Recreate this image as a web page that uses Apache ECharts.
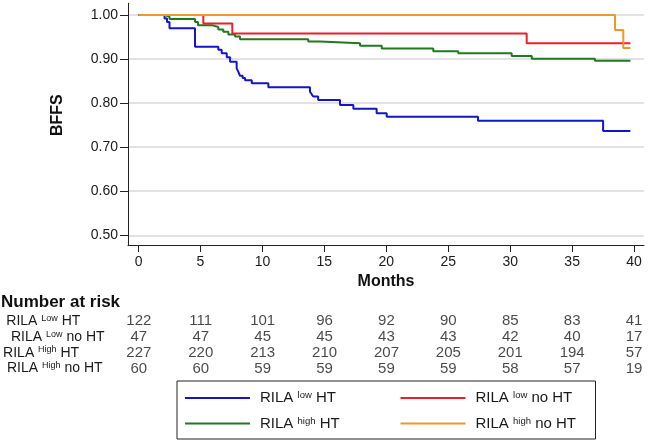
<!DOCTYPE html>
<html><head><meta charset="utf-8">
<script src="https://cdn.jsdelivr.net/npm/echarts@6/dist/echarts.min.js"></script>
<style>html,body{margin:0;padding:0;background:#fff}#c{width:650px;height:442px}</style>
</head><body><div id="c"></div>
<script>
// ---- data ----
const monthTicks = [0, 5, 10, 15, 20, 25, 30, 35, 40];
const bffsTicks = [0.5, 0.6, 0.7, 0.8, 0.9, 1.0];
const seriesNames = ['RILA low HT', 'RILA low no HT', 'RILA high HT', 'RILA high no HT'];

// Kaplan-Meier steps [month, BFFS]
const lowHT = [[0,1],[2.1,0.992],[2.3,0.984],[2.5,0.970],[4.56,0.928],[6.44,0.921],[6.71,0.913],[7.12,0.904],[7.39,0.894],[7.92,0.879],[8.06,0.871],[8.19,0.862],[8.4,0.857],[8.6,0.852],[9.14,0.845],[10.48,0.836],[13.84,0.826],[13.98,0.820],[14.1,0.815],[14.5,0.807],[16.26,0.796],[17.34,0.787],[19.22,0.777],[20.03,0.769],[27.4,0.760],[37.5,0.737],[39.7,0.737]];
const lowNoHT = [[0,1],[5.23,0.981],[7.57,0.958],[31.33,0.936],[39.7,0.936]];
const highHT = [[0,1],[2.15,0.996],[2.5,0.991],[4.56,0.984],[4.8,0.977],[5.91,0.973],[6.44,0.967],[6.84,0.962],[7.25,0.956],[7.79,0.951],[8.19,0.945],[13.7,0.940],[14.65,0.936],[17.88,0.930],[19.63,0.924],[23.79,0.918],[25.81,0.913],[30.12,0.907],[31.74,0.901],[36.84,0.896],[39.7,0.896]];
const highNoHT = [[0,1],[38.46,0.966],[39.13,0.925],[39.7,0.925]];

const riskRowLabels = ['RILA Low HT', 'RILA Low no HT', 'RILA High HT', 'RILA High no HT'];
const riskLowHT = [122, 111, 101, 96, 92, 90, 85, 83, 41];
const riskLowNoHT = [47, 47, 45, 45, 43, 43, 42, 40, 17];
const riskHighHT = [227, 220, 213, 210, 207, 205, 201, 194, 57];
const riskHighNoHT = [60, 60, 59, 59, 59, 59, 58, 57, 19];

// ---- chart ----
const colors = ['#1414c8', '#e8202a', '#1e7a1e', '#f0962a'];
const sans = 'Liberation Sans, Arial, sans-serif';
const chart = echarts.init(document.getElementById('c'), null, {renderer: 'canvas'});

function kmSeries(name, data, color, z) {
  return {
    name, type: 'line', step: 'end', data, symbol: 'none', showSymbol: false,
    xAxisIndex: 0, yAxisIndex: 0, z,
    lineStyle: {color, width: 2}, itemStyle: {color}, silent: true
  };
}
function riskSeries(row, values) {
  return {
    type: 'scatter', xAxisIndex: 1, yAxisIndex: 1, symbolSize: 2,
    itemStyle: {color: 'rgba(0,0,0,0)'}, silent: true,
    data: monthTicks.map((m, i) => [m, row, values[i]]),
    label: {show: true, position: 'inside', formatter: p => String(p.value[2]),
      fontFamily: sans, fontSize: 15, color: '#1a1a1a'}
  };
}

const supRich = {
  t: {fontFamily: sans, fontSize: 15, lineHeight: 15, color: '#1a1a1a'},
  s: {fontFamily: sans, fontSize: 9.5, lineHeight: 9, verticalAlign: 'top', color: '#1a1a1a'}
};
function supFormat(name) {
  const parts = name.split(' ');
  return '{t|' + parts[0] + ' }{s|' + parts[1] + '}{t| ' + parts.slice(2).join(' ') + '}';
}
const rowPad = [3.3, 8, 0.1, 4];
const rowRich = {
  t: {fontFamily: sans, fontSize: 14, lineHeight: 15, color: '#1a1a1a'},
  s: {fontFamily: sans, fontSize: 9, lineHeight: 9, verticalAlign: 'top', color: '#1a1a1a'}
};
rowPad.forEach((w, i) => { rowRich['p' + i] = {width: w, fontSize: 14, lineHeight: 15}; });

const option = {
  animation: false,
  backgroundColor: '#fff',
  title: {text: 'Number at risk', left: 1, top: 294, padding: 0,
    textStyle: {fontFamily: sans, fontSize: 17, fontWeight: 'bold', color: '#111'}},
  legend: {
    left: 177, top: 381, width: 407,
    padding: [9.5, 10, 8, 8],
    borderColor: '#222', borderWidth: 1,
    icon: 'rect', itemWidth: 65, itemHeight: 2, itemGap: 10.5,
    formatter: supFormat,
    textStyle: {rich: supRich, padding: [0, 0, 0, 5], lineHeight: 15},
    data: [
      {name: seriesNames[0], textStyle: {width: 130}},
      {name: seriesNames[1], textStyle: {width: 110}},
      {name: seriesNames[2], textStyle: {width: 130}},
      {name: seriesNames[3], textStyle: {width: 110}}
    ]
  },
  grid: [
    {left: 128, top: 3.3, width: 516, height: 241.7},
    {left: 128, top: 313.5, width: 516, height: 62.8}
  ],
  xAxis: [
    {gridIndex: 0, type: 'value', min: -0.85, max: 40.8,
      name: 'Months', nameLocation: 'middle', nameGap: 26,
      nameTextStyle: {fontFamily: sans, fontSize: 16, fontWeight: 'bold', color: '#111'},
      axisLine: {show: true, onZero: false, lineStyle: {color: '#222', width: 1}},
      axisTick: {show: true, length: 7, customValues: monthTicks, lineStyle: {color: '#222'}},
      axisLabel: {customValues: monthTicks, margin: 10, fontFamily: sans, fontSize: 14, color: '#1a1a1a'},
      splitLine: {show: false}},
    {gridIndex: 1, type: 'value', min: -0.85, max: 40.8, show: false,
      axisLine: {show: false}, axisTick: {show: false}, axisLabel: {show: false}, splitLine: {show: false}}
  ],
  yAxis: [
    {gridIndex: 0, type: 'value', min: 0.478, max: 1.0266,
      name: 'BFFS', nameLocation: 'middle', nameGap: 62, nameRotate: 90,
      nameTextStyle: {fontFamily: sans, fontSize: 16, fontWeight: 'bold', color: '#111', padding: [0, 0, 0, 18]},
      axisLine: {show: true, onZero: false, lineStyle: {color: '#222', width: 1}},
      axisTick: {show: true, length: 8, customValues: bffsTicks, lineStyle: {color: '#222'}},
      axisLabel: {customValues: bffsTicks, margin: 10, formatter: v => v.toFixed(2),
        fontFamily: sans, fontSize: 14, color: '#1a1a1a'},
      splitLine: {show: true, lineStyle: {color: '#d8d8d8', width: 1.5}}},
    {gridIndex: 1, type: 'category', inverse: true, data: riskRowLabels,
      axisLine: {show: false}, axisTick: {show: false}, splitLine: {show: false},
      axisLabel: {align: 'left', margin: 125.3, interval: 0, hideOverlap: false, rich: rowRich,
        formatter: (v, i) => {
          const p = v.split(' ');
          return '{p' + i + '| }{t|' + p[0] + ' }{s|' + p[1] + '}{t| ' + p.slice(2).join(' ') + '}';
        }}}
  ],
  series: [
    kmSeries(seriesNames[0], lowHT, colors[0], 2),
    kmSeries(seriesNames[2], highHT, colors[2], 3),
    kmSeries(seriesNames[1], lowNoHT, colors[1], 4),
    kmSeries(seriesNames[3], highNoHT, colors[3], 5),
    riskSeries(0, riskLowHT),
    riskSeries(1, riskLowNoHT),
    riskSeries(2, riskHighHT),
    riskSeries(3, riskHighNoHT)
  ]
};
chart.setOption(option);
</script></body></html>
